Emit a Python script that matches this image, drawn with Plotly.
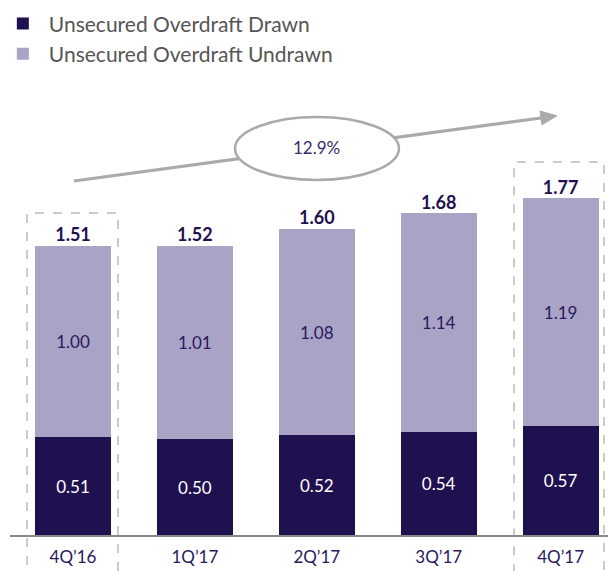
import plotly.graph_objects as go

categories = ["4Q’16", "1Q’17", "2Q’17", "3Q’17", "4Q’17"]
drawn = [0.51, 0.50, 0.52, 0.54, 0.57]
undrawn = [1.00, 1.01, 1.08, 1.14, 1.19]
totals = [1.51, 1.52, 1.60, 1.68, 1.77]
growth_label = "12.9%"

DRAWN_C = "#1f1050"
UNDRAWN_C = "#a9a3c5"
TEXT_DARK = "#2a1a5e"
GREY = "#aaaaaa"
FONT = "Lato"

fig = go.Figure()
fig.add_trace(go.Bar(
    x=categories, y=drawn, name="Unsecured Overdraft Drawn",
    marker=dict(color=DRAWN_C, line=dict(width=0)),
    text=[f"{v:.2f}" for v in drawn], textposition="inside",
    insidetextanchor="middle", textangle=0,
    textfont=dict(color="white", size=17, family=FONT),
    hoverinfo="skip",
))
fig.add_trace(go.Bar(
    x=categories, y=undrawn, name="Unsecured Overdraft Undrawn",
    marker=dict(color=UNDRAWN_C, line=dict(width=0)),
    text=[f"{v:.2f}" for v in undrawn], textposition="inside",
    insidetextanchor="middle", textangle=0,
    textfont=dict(color=TEXT_DARK, size=17, family=FONT),
    hoverinfo="skip",
))
fig.add_trace(go.Scatter(
    x=categories, y=[d + u for d, u in zip(drawn, undrawn)],
    mode="text", text=[f"<b>{t:.2f}</b>" for t in totals],
    textposition="top center",
    textfont=dict(color=DRAWN_C, size=18, family=FONT),
    showlegend=False, hoverinfo="skip", cliponaxis=False,
))

shapes = []
# dashed highlight boxes
for x0, x1, y1 in [(-0.377, 0.369, 0.7236), (3.618, 4.356, 0.838)]:
    shapes.append(dict(type="rect", xref="x", yref="paper", x0=x0, x1=x1,
                       y0=-0.2, y1=y1, line=dict(color="#bbbbbb", width=1.5, dash="dash"),
                       fillcolor="rgba(0,0,0,0)", layer="below"))
# growth arrow line
shapes.append(dict(type="line", xref="x", yref="y", x0=0.008, y0=1.850, x1=3.839, y1=2.179,
                   line=dict(color=GREY, width=3)))
# arrow head
shapes.append(dict(type="path", xref="x", yref="y",
                   path="M 3.847 2.143 L 3.970 2.190 L 3.831 2.215 Z",
                   fillcolor=GREY, line=dict(color=GREY, width=1)))
# ellipse
shapes.append(dict(type="circle", xref="x", yref="y", x0=1.329, x1=2.674, y0=1.855, y1=2.184,
                   fillcolor="white", line=dict(color=GREY, width=2.5)))

fig.update_layout(
    width=608, height=571,
    margin=dict(l=10, r=0, t=90, b=36, autoexpand=False),
    paper_bgcolor="white", plot_bgcolor="white",
    barmode="stack", bargap=0.377,
    font=dict(family=FONT, color=TEXT_DARK),
    showlegend=True,
    legend=dict(x=-0.022, y=1.195, xanchor="left", yanchor="top", orientation="v",
                traceorder="normal",
                font=dict(size=21, color="#555555", family=FONT),
                itemwidth=42, tracegroupgap=0, bgcolor="rgba(0,0,0,0)"),
    xaxis=dict(type="category", range=[-0.517, 4.389], showline=True, linecolor="#888888",
               linewidth=1.5, showgrid=False, zeroline=False, ticks="outside", ticklen=6,
               tickcolor="rgba(0,0,0,0)", tickfont=dict(size=17, color=TEXT_DARK, family=FONT)),
    yaxis=dict(range=[0, 2.325], visible=False, showgrid=False, zeroline=False),
    shapes=shapes,
    annotations=[dict(x=2.0, y=2.022, xref="x", yref="y", text=growth_label, showarrow=False,
                      font=dict(size=17, color="#3a2a6e", family=FONT))],
)

fig.write_html("out.html", config={"displayModeBar": False},
               post_script="document.body.style.margin='0';document.body.style.overflow='hidden';")
